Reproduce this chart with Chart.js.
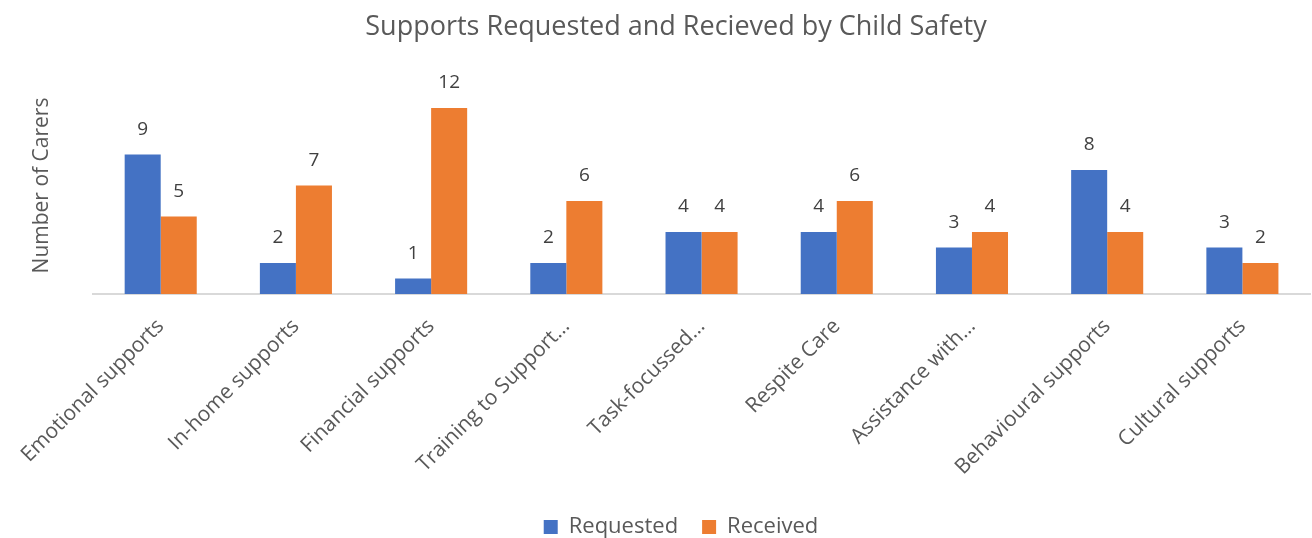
<!DOCTYPE html>
<html><head><meta charset="utf-8">
<script src="https://cdn.jsdelivr.net/npm/chart.js@4/dist/chart.umd.min.js"></script>
<style>html,body{margin:0;padding:0;background:#fff}#wrap{width:1312px;height:538px}</style>
</head><body><div id="wrap"><canvas id="c"></canvas></div>
<script>
const categories = ["Emotional supports","In-home supports","Financial supports","Training to Support\u2026","Task-focussed\u2026","Respite Care","Assistance with\u2026","Behavioural supports","Cultural supports"];
const requested = [9,2,1,2,4,4,3,8,3];
const received = [5,7,12,6,4,6,4,4,2];
const seriesNames = ["Requested","Received"];
const chartTitle = "Supports Requested and Recieved by Child Safety";
const FONT = "'Open Sans', 'Liberation Sans', Arial, sans-serif";
const TXT = "#595959";

const valueLabels = {
  id:'valueLabels',
  afterDatasetsDraw(chart){
    const ctx = chart.ctx;
    ctx.save();
    ctx.font = "19px " + FONT;
    ctx.fillStyle = "#404040";
    ctx.textAlign = "center";
    ctx.textBaseline = "middle";
    chart.data.datasets.forEach((ds,i)=>{
      chart.getDatasetMeta(i).data.forEach((bar,j)=>{
        ctx.fillText(String(ds.data[j]), bar.x, bar.y - 25);
      });
    });
    ctx.restore();
  }
};

const titleAndLegendPos = {
  id:'titleAndLegendPos',
  afterLayout(chart){
    const lg = chart.legend;
    if (lg){ lg.left += 26; lg.right += 26; }
  },
  afterDraw(chart){
    const ctx = chart.ctx;
    ctx.save();
    ctx.font = "27px " + FONT;
    ctx.fillStyle = TXT;
    ctx.textAlign = "center";
    ctx.textBaseline = "middle";
    ctx.fillText(chartTitle, 676, 27);
    ctx.restore();
  }
};

new Chart(document.getElementById('c'),{
  type:'bar',
  data:{labels:categories,datasets:[
    {label:seriesNames[0],data:requested,backgroundColor:'#4472C4'},
    {label:seriesNames[1],data:received,backgroundColor:'#ED7D31'}
  ]},
  options:{
    responsive:true,maintainAspectRatio:false,animation:false,
    layout:{padding:{left:0,right:2,top:77,bottom:-10}},
    datasets:{bar:{barPercentage:1,categoryPercentage:0.533}},
    plugins:{
      title:{display:false},
      legend:{position:'bottom',labels:{color:TXT,font:{family:FONT,size:22},boxWidth:14,boxHeight:14,padding:24}},
      tooltip:{enabled:false}
    },
    scales:{
      x:{
        grid:{display:false,drawTicks:false},
        border:{display:true,color:'#D9D9D9',width:2},
        ticks:{color:TXT,font:{family:FONT,size:21},maxRotation:45,minRotation:45,padding:20,autoSkip:false},
        afterFit(s){s.height=198;}
      },
      y:{
        min:0,max:14,
        grid:{display:false},
        border:{display:false},
        ticks:{display:false},
        title:{display:true,text:'Number of Carers',color:TXT,font:{family:FONT,size:21},padding:{top:28,bottom:0}},
        afterFit(s){s.width=92;}
      }
    }
  },
  plugins:[valueLabels,titleAndLegendPos]
});
</script></body></html>
